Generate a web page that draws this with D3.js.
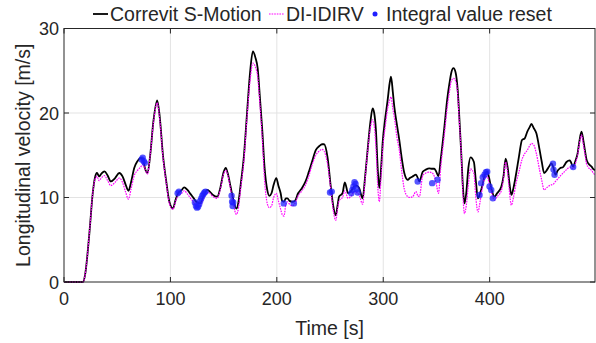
<!DOCTYPE html>
<html><head><meta charset="utf-8">
<script src="https://cdn.jsdelivr.net/npm/d3@7"></script>
<style>body{margin:0;background:#fff}svg{display:block}text{font-family:"Liberation Sans",Arial,sans-serif;fill:#262626}</style>
</head><body><div id="chart"></div>
<script>
const times = [0,18,20,24,27,29,31,33,35,38,41,44,48,52,55,58,60.6,63,66,69,72,74,76,78.5,81,84,87.6,90,93,96,99,102.4,105,107.7,110,113,116,119,122,125,128,131,134.5,137,140,144,147,150,152,154,156.5,159,162,164,166,169,172,175,177.5,180,182,184,186.3,188.5,191,193,195,197,199.5,201.5,203.6,205,206.7,208.5,210,212,214.6,217,220,223,227,230,233,236.6,240,242.5,244.4,247.6,250.7,253,255.4,257,258.5,261.7,263.9,267,270,272.7,275,277.4,280.6,283,285.3,288,290,291.5,293.1,295,296.3,298,299.4,302,304.1,306,307.3,309,310.4,313,315.1,317,319.8,323,325,327.7,330.8,332.5,334,337.1,340,343.4,346,348,350,351.9,354,357.5,360,362.2,364,366,368,370.1,371.5,373.2,375,376.3,378,380,382,385.2,387,389,391,393.7,395.5,397.7,399.5,401.5,404.6,407,411,413,415,417,418.5,420.4,422.5,425,427.5,430.4,433,435.4,437.5,439.2,441.5,443.9,447,449,451.2,454,456,458,460,461.9,464,466,469,472.2,475.3,478.5,480.5,482.6,484.5,486.3,488,489.5,491,492.6,495.8,498,499];
const correvit = [0,0,1,6,10.5,12.3,12.9,12.5,12.8,13.1,12.6,11.9,12.3,12.9,12.5,11.5,10.8,11.8,13.5,14.3,14.7,14.6,13.5,12.9,15,19,21.5,19.5,15,12,9.5,8.7,9.8,10.6,10.8,11.2,10.9,10.4,9.9,9.4,9.3,10.1,10.9,10.7,10.3,10.1,11.2,13.0,13.5,12.8,11.3,9.8,8.7,9.5,11.5,14.8,20,25,27.3,26.5,25.3,22,18,13.5,10.9,10.2,10.5,11.5,12.3,11.4,10.5,9.6,9.5,9.9,9.9,9.6,9.5,9.6,10.5,11.0,11.9,13.0,14.2,15.6,16.1,16.3,16.3,14.8,11.3,9.0,7.9,9.0,10.1,10.5,11.8,10.5,10.8,11.3,11.4,11.1,9.9,12.5,15.6,19,20.55,20,18,13,11.1,13.5,16.4,19.5,21.5,23.5,24.3,22.5,20.75,18.5,16.8,15,12.9,12.1,12.3,12.5,12.7,12.3,11.9,13.05,13.3,13.45,13.4,13.4,13.0,12.5,14.5,18.4,21.5,23.5,24.8,25.3,24.8,22.5,19.5,15.5,11,9.3,10.5,13.5,14.75,14.2,12,9.9,10.5,11.7,12.7,13.05,12.3,11.1,10.1,10.5,11.3,12.5,14.6,13.5,11.8,10.3,11.2,12.9,14.8,16.8,17.0,17.8,18.3,18.7,18.2,17.6,15.6,14.2,12.9,13.3,13.7,14.05,13.5,12.7,13.2,13.45,13.6,14.2,14.4,13.65,14.3,15.2,16.8,17.8,16.8,15.6,14.5,14.05,13.65,13.3,13.25];
const diIdirv = [0,0,1,6,10.5,12.1,12.5,12.0,12.3,12.6,12.0,11.4,11.8,12.3,11.8,10.6,9.8,11.0,12.6,13.2,13.6,13.9,13.4,12.8,15,18.8,21.2,19.2,14.8,11.8,9.3,8.6,9.6,10.3,10.4,10.8,10.4,9.9,9.4,8.8,9.0,9.8,10.6,10.5,10.1,9.9,11.0,12.8,13.2,12.6,11.0,9.3,8.0,8.8,11.0,14.3,19.5,24,25.9,25.4,24.3,21.2,17,12,9.3,8.8,9.0,10.0,10.5,9.6,8.6,8.0,7.8,9.2,9.5,9.2,9.0,9.3,10.2,10.7,11.5,12.5,13.8,15.0,15.5,15.7,15.5,14.0,11.0,8.5,7.3,8.6,9.6,10.0,10.8,9.9,10.2,10.7,10.6,10.3,9.2,12.2,15.4,18.3,19.2,18.5,16,11,9.5,12.5,15.5,18.5,20.5,21.5,21.9,20.5,19.5,17,15.6,13.5,11.0,10.1,10.0,10.1,10.7,10.2,10.1,12.6,12.9,13.0,12.9,12.5,11.5,10.5,13.5,17.5,20.5,22.5,23.8,24.1,23.8,22.0,19,15.5,10,8.1,9,11.5,13.4,12.8,10,8.3,9.5,11.5,12.3,12.5,11.7,10.7,9.7,10.1,10.8,12.2,14.2,12.8,10.8,9.1,10.1,11.8,13,14.5,15.2,15.6,16.1,16.4,16.2,15.2,13.2,12,10.9,11.2,11.4,11.5,11.6,11.9,12.2,12.5,12.9,13.3,13.6,13.4,14.0,15.0,16.5,17.4,16.3,15.2,14.0,13.6,13.2,12.8,12.7];
const resetTimes = [73,74,75,76,106.8,108,123,124,125,126,127,128,129,130,131,132,133,157.5,158,158.5,159,206.5,216,250,251.6,270,271,272,273,274,275,276,332.4,346,351,390.5,392,393.5,395.2,396.5,397.7,399.9,401.5,403,459.5,460,461,478.5];
const resetValues = [14.5,14.7,14.3,14.1,10.5,10.7,9.4,9.0,8.8,8.9,9.2,9.6,9.9,10.2,10.4,10.6,10.7,10.2,9.5,9.0,9.4,9.3,9.3,10.6,10.7,10.5,10.9,11.3,11.8,11.6,11.0,10.6,11.9,11.7,12.1,10.3,11.7,12.4,12.7,13.0,13.05,11.3,10.9,9.9,14.0,13.3,12.7,13.6];
const xTicks = [0,100,200,300,400];
const yTicks = [0,10,20,30];
const seriesNames = ["Correvit S-Motion","DI-IDIRV","Integral value reset"];

const W=596,H=343, L=64, R=595, T=28.5, B=282;
const svg=d3.select("#chart").append("svg").attr("width",W).attr("height",H);
const x=d3.scaleLinear().domain([0,499]).range([L,R]);
const y=d3.scaleLinear().domain([0,30]).range([B,T]);

// grid
const g=svg.append("g");
g.selectAll(".gx").data(xTicks.slice(1)).join("line").attr("x1",d=>x(d)).attr("x2",d=>x(d)).attr("y1",T).attr("y2",B).attr("stroke","#e3e3e3").attr("stroke-width",1);
g.selectAll(".gy").data(yTicks.slice(1,-1)).join("line").attr("y1",d=>y(d)).attr("y2",d=>y(d)).attr("x1",L).attr("x2",R).attr("stroke","#e3e3e3").attr("stroke-width",1);

const pts=times.map((t,i)=>({t,a:correvit[i],b:diIdirv[i]}));
const lineA=d3.line().x(d=>x(d.t)).y(d=>y(d.a)).curve(d3.curveMonotoneX);
const lineB=d3.line().x(d=>x(d.t)).y(d=>y(d.b)).curve(d3.curveMonotoneX);
svg.append("path").datum(pts).attr("d",lineA).attr("fill","none").attr("stroke","#000").attr("stroke-width",1.8);
svg.append("path").datum(pts).attr("d",lineB).attr("fill","none").attr("stroke","#ff00ff").attr("stroke-width",1.2).attr("stroke-dasharray","1.6,1");
svg.append("g").selectAll("circle").data(resetTimes.map((t,i)=>({t,v:resetValues[i]}))).join("circle")
  .attr("cx",d=>x(d.t)).attr("cy",d=>y(d.v)).attr("r",3.2).attr("fill","#1f1fff").attr("fill-opacity",0.75);

// axes box
const ax=svg.append("g");
ax.append("rect").attr("x",L).attr("y",T).attr("width",R-L).attr("height",B-T).attr("fill","none").attr("stroke","#262626").attr("stroke-width",1);
const tl=5;
xTicks.forEach(t=>{
  ax.append("line").attr("x1",x(t)).attr("x2",x(t)).attr("y1",B).attr("y2",B-tl).attr("stroke","#262626");
  ax.append("line").attr("x1",x(t)).attr("x2",x(t)).attr("y1",T).attr("y2",T+tl).attr("stroke","#262626");
  ax.append("text").attr("x",x(t)).attr("y",305).attr("text-anchor","middle").style("font-size","18px").text(t);
});
yTicks.forEach(v=>{
  ax.append("line").attr("x1",L).attr("x2",L+tl).attr("y1",y(v)).attr("y2",y(v)).attr("stroke","#262626");
  ax.append("line").attr("x1",R).attr("x2",R-tl).attr("y1",y(v)).attr("y2",y(v)).attr("stroke","#262626");
  ax.append("text").attr("x",L-5).attr("y",y(v)+6.5).attr("text-anchor","end").style("font-size","18px").text(v);
});
svg.append("text").attr("x",(L+R)/2).attr("y",335).attr("text-anchor","middle").style("font-size","19.5px").text("Time [s]");
svg.append("text").attr("transform",`translate(30,${(T+B)/2}) rotate(-90)`).attr("text-anchor","middle").style("font-size","19.5px").text("Longitudinal velocity [m/s]");

// legend
const lg=svg.append("g");
lg.append("line").attr("x1",93).attr("x2",108).attr("y1",14).attr("y2",14).attr("stroke","#000").attr("stroke-width",1.8);
lg.append("text").attr("x",110).attr("y",21).style("font-size","19.5px").text(seriesNames[0]);
lg.append("line").attr("x1",269).attr("x2",284).attr("y1",14).attr("y2",14).attr("stroke","#ff00ff").attr("stroke-width",1.2).attr("stroke-dasharray","1.6,1");
lg.append("text").attr("x",286).attr("y",21).style("font-size","19.5px").text(seriesNames[1]);
lg.append("circle").attr("cx",375).attr("cy",14).attr("r",2.5).attr("fill","#1f1fff");
lg.append("text").attr("x",386).attr("y",21).style("font-size","19.5px").text(seriesNames[2]);
</script></body></html>
